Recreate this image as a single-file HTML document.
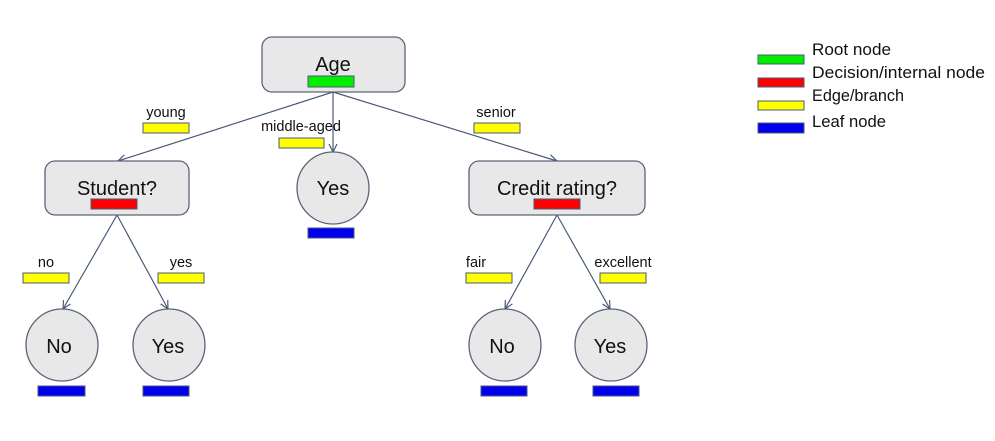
<!DOCTYPE html>
<html><head><meta charset="utf-8"><style>
html,body{margin:0;padding:0;background:#fff;width:995px;height:441px;overflow:hidden}
svg{display:block}
text{font-family:"Liberation Sans",sans-serif;fill:#111}
</style></head><body>
<svg width="995" height="441" viewBox="0 0 995 441" xmlns="http://www.w3.org/2000/svg">
<defs><marker id="a" markerWidth="10" markerHeight="10" refX="9" refY="5" orient="auto" markerUnits="userSpaceOnUse"><path d="M1,1 L9,5 L1,9" fill="none" stroke="#4a5a78" stroke-width="1.2"/></marker></defs>
<g stroke="#4a5a78" stroke-width="1.2" fill="none">
<line x1="333" y1="92" x2="118" y2="161" marker-end="url(#a)"/>
<line x1="333" y1="92" x2="333" y2="152" marker-end="url(#a)"/>
<line x1="333" y1="92" x2="557" y2="161" marker-end="url(#a)"/>
<line x1="117" y1="215" x2="63" y2="309" marker-end="url(#a)"/>
<line x1="117" y1="215" x2="168" y2="309" marker-end="url(#a)"/>
<line x1="557" y1="215" x2="505" y2="309" marker-end="url(#a)"/>
<line x1="557" y1="215" x2="610" y2="309" marker-end="url(#a)"/>
</g>
<g fill="#e8e8e8" stroke="#5a6478" stroke-width="1.3">
<rect x="262" y="37" width="143" height="55" rx="10"/>
<rect x="45" y="161" width="144" height="54" rx="10"/>
<rect x="469" y="161" width="176" height="54" rx="10"/>
<circle cx="333" cy="188" r="36"/>
<circle cx="62" cy="345" r="36"/>
<circle cx="169" cy="345" r="36"/>
<circle cx="505" cy="345" r="36"/>
<circle cx="611" cy="345" r="36"/>
</g>
<g font-size="20" text-anchor="middle">
<text x="333" y="71">Age</text>
<text x="117" y="195">Student?</text>
<text x="557" y="195">Credit rating?</text>
<text x="333" y="195">Yes</text>
<text x="59" y="353">No</text>
<text x="168" y="353">Yes</text>
<text x="502" y="353">No</text>
<text x="610" y="353">Yes</text>
</g>
<g font-size="14.5" text-anchor="middle">
<text x="166" y="117">young</text>
<text x="301" y="131">middle-aged</text>
<text x="496" y="117">senior</text>
<text x="46" y="267">no</text>
<text x="181" y="267">yes</text>
<text x="476" y="267">fair</text>
<text x="623" y="267">excellent</text>
</g>
<g stroke="#4a5a78" stroke-width="1">
<rect x="308" y="76" width="46" height="11" fill="#00ee00"/>
<rect x="91" y="199" width="46" height="10" fill="#ff0000"/>
<rect x="534" y="199" width="46" height="10" fill="#ff0000"/>
<rect x="308" y="228" width="46" height="10" fill="#0000ee"/>
<rect x="38" y="386" width="47" height="10" fill="#0000ee"/>
<rect x="143" y="386" width="46" height="10" fill="#0000ee"/>
<rect x="481" y="386" width="46" height="10" fill="#0000ee"/>
<rect x="593" y="386" width="46" height="10" fill="#0000ee"/>
<rect x="143" y="123" width="46" height="10" fill="#ffff00"/>
<rect x="279" y="138" width="45" height="10" fill="#ffff00"/>
<rect x="474" y="123" width="46" height="10" fill="#ffff00"/>
<rect x="23" y="273" width="46" height="10" fill="#ffff00"/>
<rect x="158" y="273" width="46" height="10" fill="#ffff00"/>
<rect x="466" y="273" width="46" height="10" fill="#ffff00"/>
<rect x="600" y="273" width="46" height="10" fill="#ffff00"/>
<rect x="758" y="55" width="46" height="9" fill="#00ee00"/>
<rect x="758" y="78" width="46" height="9" fill="#ff0000"/>
<rect x="758" y="101" width="46" height="9" fill="#ffff00"/>
<rect x="758" y="123" width="46" height="10" fill="#0000ee"/>
</g>
<g font-size="17">
<text x="812" y="55" textLength="79" lengthAdjust="spacingAndGlyphs">Root node</text>
<text x="812" y="78" textLength="173" lengthAdjust="spacingAndGlyphs">Decision/internal node</text>
<text x="812" y="101" textLength="92" lengthAdjust="spacingAndGlyphs">Edge/branch</text>
<text x="812" y="127" textLength="74" lengthAdjust="spacingAndGlyphs">Leaf node</text>
</g>
</svg>
</body></html>
